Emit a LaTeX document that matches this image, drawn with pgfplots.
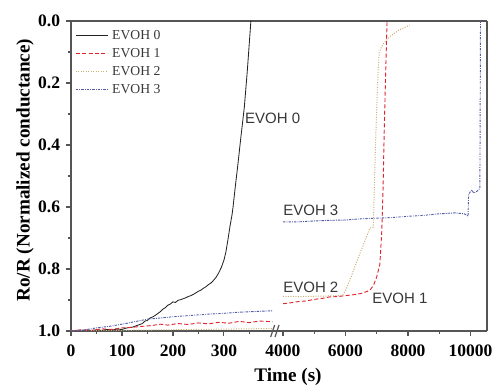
\documentclass[border=0pt]{standalone}
\usepackage{fontspec}
\setmainfont{Liberation Serif}
\newfontfamily\labelsans{Liberation Sans}
\usepackage{pgfplots}
\pgfplotsset{compat=1.18}

\definecolor{evohzero}{RGB}{35,35,35}
\definecolor{evohone}{RGB}{225,35,45}
\definecolor{evohtwo}{RGB}{200,175,115}
\definecolor{evohthree}{RGB}{80,92,165}
\definecolor{framegray}{RGB}{85,85,85}
\definecolor{notegray}{RGB}{55,55,55}

\tikzset{
  note/.style={font=\labelsans\fontsize{9}{10}\selectfont, text=notegray, inner sep=0pt},
}
\pgfplotsset{
  evohaxis/.style={
    scale only axis, height=186pt,
    ymin=0, ymax=1, y dir=reverse,
    clip mode=individual,
    axis line style={-, framegray, line width=1pt},
    tick style={framegray, line width=0.7pt},
    tick align=outside,
    major tick length=3pt, minor tick length=1.8pt,
    tick label style={font=\bfseries\fontsize{10.5}{12}\selectfont},
    xticklabel style={yshift=-1.6pt},
    /pgf/number format/assume math mode=true,
    xtick pos=left,
  },
  s0/.style={evohzero, line width=0.5pt},
  s1/.style={evohone, line width=0.55pt, dash pattern=on 2.4pt off 1.4pt},
  s2/.style={evohtwo, line width=0.6pt, dash pattern=on 0.6pt off 0.9pt},
  s3/.style={evohthree, line width=0.55pt, dash pattern=on 1.4pt off 0.7pt on 0.5pt off 0.7pt},
}

\begin{document}
\begin{tikzpicture}
\path[use as bounding box] (-42.6pt,-33pt) rectangle (255.6pt,198.6pt);

% short-time part of the broken time axis (0-400 s)
\begin{axis}[evohaxis, name=leftpart, at={(0,0)}, anchor=south west,
  width=127.2pt, xmin=0, xmax=416,
  axis y line*=left,
  xtick={0,100,200,300}, minor xtick={50,150,250,350},
  ytick={0,0.2,0.4,0.6,0.8,1.0}, minor ytick={0.1,0.3,0.5,0.7,0.9},
  yticklabel style={/pgf/number format/.cd, fixed, fixed zerofill, precision=1},
  xlabel={Time (s)},
  ylabel={Ro/R (Normalized conductance)},
  label style={font=\bfseries\fontsize{11.5}{13}\selectfont},
  xlabel style={at={(axis description cs:1.0236,-0.1484)}, anchor=center},
  ylabel style={at={(axis description cs:-0.217,0.519)}, anchor=center},
  legend style={at={(axis description cs:0.019,1)}, anchor=north west, yshift=-5pt,
    draw=none, fill=none, inner sep=0pt, row sep=3.6pt,
    font=\fontsize{8.2}{9}\selectfont, text=notegray,
    nodes={inner ysep=0pt, inner xsep=2.5pt, text height=6pt, text depth=1.2pt}},
  legend cell align=left,
  legend image code/.code={\draw[#1] (0pt,0pt) -- (19pt,0pt);},
]
\addplot[s0] coordinates {
(0,1.000)(10,0.998)(20,1.000)(30,0.997)(40,0.999)(50,0.996)(60,0.998)(70,0.995)
(80,0.997)(90,0.994)(100,0.995)(110,0.990)(120,0.988)(130,0.982)(140,0.976)
(145,0.968)(150,0.966)(155,0.958)(160,0.955)(165,0.950)(170,0.944)(175,0.938)
(180,0.930)(185,0.925)(190,0.917)(195,0.913)(200,0.906)(205,0.908)(210,0.901)
(215,0.899)(220,0.896)(225,0.893)(230,0.889)(235,0.886)(240,0.882)(245,0.877)
(250,0.872)(255,0.868)(260,0.862)(265,0.857)(270,0.850)(275,0.845)(280,0.836)
(285,0.826)(290,0.812)(295,0.795)(300,0.772)(304,0.745)(308,0.705)(312,0.662)
(316,0.625)(318,0.600)(322,0.540)(327,0.470)(333,0.380)(340,0.280)(346,0.160)
(353,0.000)};
\addlegendentry{EVOH 0}
\addplot[s1] coordinates {
(0,1.000)(20,0.996)(40,0.998)(60,0.993)(80,0.995)(100,0.990)(120,0.988)(140,0.985)
(160,0.982)(175,0.978)(190,0.981)(210,0.976)(230,0.979)(250,0.974)(270,0.977)
(290,0.972)(310,0.975)(330,0.969)(350,0.973)(370,0.968)(395,0.970)};
\addlegendentry{EVOH 1}
\addplot[s2] coordinates {
(0,1.000)(100,0.998)(200,0.996)(300,0.994)(395,0.992)};
\addlegendentry{EVOH 2}
\addplot[s3] coordinates {
(0,1.000)(25,0.997)(50,0.990)(75,0.985)(100,0.978)(125,0.970)(150,0.962)
(175,0.958)(200,0.954)(225,0.951)(250,0.948)(275,0.945)(300,0.943)(325,0.940)
(350,0.938)(375,0.936)(395,0.935)};
\addlegendentry{EVOH 3}
\node[note, anchor=west] at (axis cs:341,0.313) {EVOH 0};
\end{axis}

% long-time part of the broken time axis (4000 s onwards)
\begin{axis}[evohaxis, name=rightpart, at={(leftpart.south east)}, anchor=south west,
  width=122.4pt, xmin=4000, xmax=10528,
  axis y line*=right, ytick=\empty,
  xtick={4000,6000,8000,10000}, minor xtick={5000,7000,9000},
  scaled x ticks=false,
  xticklabel style={/pgf/number format/.cd, fixed, 1000 sep={}},
]
\addplot[s1] coordinates {
(4000,0.912)(4250,0.909)(4500,0.905)(4750,0.903)(5000,0.898)(5250,0.895)
(5500,0.890)(5750,0.889)(6000,0.886)(6250,0.883)(6500,0.879)(6700,0.872)
(6800,0.866)(6900,0.852)(7000,0.825)(7100,0.785)(7160,0.680)(7200,0.550)
(7240,0.350)(7290,0.150)(7330,0.000)};
\addplot[s2] coordinates {
(4000,0.888)(4500,0.889)(5000,0.888)(5500,0.887)(5900,0.885)(6000,0.870)
(6200,0.820)(6400,0.765)(6600,0.715)(6780,0.668)(6890,0.665)(6920,0.550)
(6960,0.400)(7000,0.280)(7040,0.170)(7080,0.100)(7200,0.075)(7420,0.050)
(7700,0.030)(8060,0.013)};
\addplot[s3] coordinates {
(4000,0.648)(4500,0.648)(5000,0.645)(5500,0.643)(6000,0.642)(6500,0.638)
(7000,0.636)(7500,0.634)(8000,0.630)(8500,0.627)(9000,0.622)(9500,0.619)
(9800,0.622)(9900,0.628)(9920,0.630)(9940,0.560)(10000,0.550)(10050,0.545)
(10100,0.555)(10200,0.550)(10300,0.540)(10320,0.000)};
\node[note, anchor=west] at (axis cs:4000,0.61) {EVOH 3};
\node[note, anchor=west] at (axis cs:4000,0.858) {EVOH 2};
\node[note, anchor=west] at (axis cs:6850,0.894) {EVOH 1};
\end{axis}

% break marks on the time axis
\draw[framegray, line width=0.7pt] ([shift={(-7.4pt,-3.6pt)}]leftpart.south east) -- ([shift={(-5.0pt,3.6pt)}]leftpart.south east);
\draw[framegray, line width=0.7pt] ([shift={(-4.8pt,-3.6pt)}]leftpart.south east) -- ([shift={(-2.4pt,3.6pt)}]leftpart.south east);
\end{tikzpicture}
\end{document}
